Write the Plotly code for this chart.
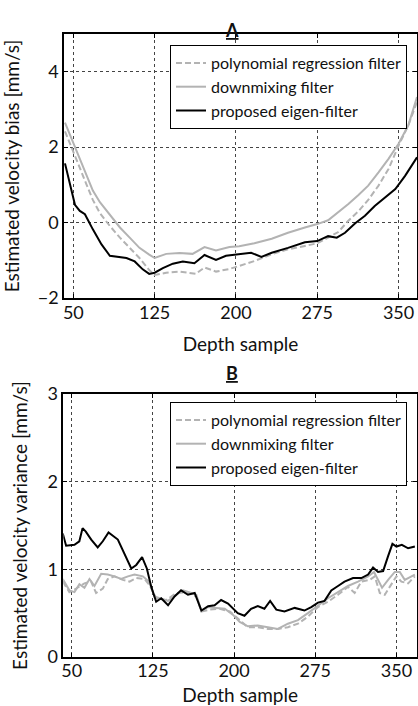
import plotly.graph_objects as go

# ---------------- Panel A: velocity bias ----------------
a_down_x = [42.3, 50, 56, 62, 68, 74.5, 83.7, 93, 102, 111, 120, 125, 135.7, 148, 160, 171, 181.6, 194, 203,
            217, 233, 248, 263.6, 275, 285, 294.4, 303.7, 313, 322, 331.5, 340.7, 350, 359, 367]
a_down_y = [2.65, 2.11, 1.70, 1.30, 0.85, 0.54, 0.22, -0.13, -0.40, -0.67, -0.85, -0.94, -0.83, -0.81, -0.83, -0.65, -0.74, -0.65, -0.63,
            -0.55, -0.43, -0.27, -0.13, -0.04, 0.06, 0.27, 0.49, 0.73, 0.98, 1.33, 1.69, 2.09, 2.58, 3.33]

a_poly_x = [42.3, 50, 56, 62, 68, 74.5, 83.7, 93, 102, 111, 120, 125, 135.7, 148, 163, 171, 181.6, 194, 202,
            217, 233, 248, 263.6, 275, 285, 294.4, 303.7, 313, 322, 331.5, 340.7, 350, 359, 367]
a_poly_y = [2.42, 1.90, 1.45, 1.02, 0.60, 0.25, -0.09, -0.40, -0.67, -0.94, -1.26, -1.39, -1.33, -1.30, -1.36, -1.19, -1.30, -1.23, -1.16,
            -1.02, -0.84, -0.71, -0.62, -0.55, -0.40, -0.25, 0.05, 0.30, 0.60, 0.98, 1.42, 2.04, 2.58, 3.20]

a_eig_x = [42.3, 47, 51.5, 56, 60.7, 68, 76, 83.7, 91, 99, 106.6, 114, 120, 125, 132.6, 141.8, 151, 161.7, 171, 181.6, 190.8, 203,
           214, 223.5, 233, 248, 263.6, 275, 285, 293, 300.6, 310, 319, 328, 337.6, 347, 356, 367]
a_eig_y = [1.57, 0.99, 0.47, 0.31, 0.22, -0.18, -0.58, -0.88, -0.90, -0.94, -1.03, -1.24, -1.36, -1.33, -1.21, -1.09, -1.03, -1.08, -0.86, -0.99, -0.88, -0.83,
           -0.80, -0.91, -0.80, -0.67, -0.52, -0.49, -0.36, -0.40, -0.27, -0.02, 0.18, 0.44, 0.67, 0.89, 1.24, 1.73]

# ---------------- Panel B: velocity variance ----------------
b_down_x = [41.7, 47.8, 52.5, 57.1, 61.7, 66.4, 71, 77.2, 83.3, 89.5, 95.7, 101.9, 108, 115.7, 121.3, 126.5, 131.2, 138.9, 146.6,
            152.8, 160.5, 165.1, 169.8, 175.9, 183.6, 191.4, 199.1, 205.2, 212.7, 221.9, 231.2, 240.4, 249.7, 259, 268.2, 277.5,
            286.7, 296, 305.2, 314.5, 323.8, 329.3, 333, 336.7, 342.3, 348.5, 353.1, 357.7, 367]
b_down_y = [0.89, 0.76, 0.74, 0.83, 0.79, 0.89, 0.81, 0.95, 0.94, 0.92, 0.89, 0.92, 0.94, 0.92, 0.86, 0.69, 0.67, 0.64, 0.71,
            0.76, 0.73, 0.71, 0.52, 0.57, 0.56, 0.55, 0.48, 0.40, 0.35, 0.36, 0.34, 0.32, 0.38, 0.42, 0.50, 0.59,
            0.67, 0.74, 0.81, 0.86, 0.92, 0.97, 0.88, 0.79, 0.88, 0.97, 0.97, 0.88, 0.94]

b_poly_x = [41.7, 47.8, 54, 61.7, 67.9, 72.5, 78.7, 83.3, 89.5, 97.2, 103.4, 109.6, 117.3, 121.9, 128.1, 137.3, 146.6, 155.9, 165.1,
            169.8, 177.5, 186.7, 196, 205.2, 212.7, 221.9, 231.2, 240.4, 249.7, 259, 268.2, 277.5, 286.7, 296, 305.2, 311.4,
            317.6, 325.3, 330, 334.6, 339.2, 343.8, 350, 354.6, 360.8, 367]
b_poly_y = [0.86, 0.74, 0.78, 0.84, 0.86, 0.73, 0.78, 0.89, 0.92, 0.88, 0.86, 0.90, 0.89, 0.82, 0.67, 0.65, 0.73, 0.74, 0.69,
            0.52, 0.54, 0.55, 0.52, 0.42, 0.34, 0.34, 0.32, 0.32, 0.34, 0.38, 0.46, 0.57, 0.63, 0.71, 0.80, 0.73,
            0.86, 0.88, 0.92, 0.73, 0.71, 0.80, 0.92, 0.86, 0.84, 0.92]

b_eig_x = [41.7, 44.8, 52.5, 57, 60, 63, 68, 74, 78.7, 84, 92.6, 98.8, 105, 109.6, 115, 119.4, 123.5, 128, 132.7, 139, 145, 151,
           157.4, 163.6, 169.8, 176, 182, 188, 194.4, 203.4, 209.6, 215.7, 221.9, 228, 233.3, 239, 246.6, 256, 265, 271.3,
           277.5, 283.6, 289.8, 296, 302, 309.9, 317.6, 323.8, 328.4, 333, 337.7, 342.3, 346.3, 350, 355, 360.8, 367]
b_eig_y = [1.41, 1.27, 1.28, 1.32, 1.47, 1.43, 1.34, 1.25, 1.32, 1.42, 1.34, 1.18, 1.01, 1.05, 1.14, 1.01, 0.80, 0.63, 0.67, 0.59, 0.69, 0.76,
           0.71, 0.73, 0.53, 0.58, 0.59, 0.65, 0.61, 0.50, 0.47, 0.55, 0.58, 0.55, 0.64, 0.54, 0.52, 0.56, 0.53, 0.57,
           0.62, 0.64, 0.76, 0.81, 0.86, 0.90, 0.90, 0.94, 1.02, 0.97, 0.98, 1.15, 1.29, 1.26, 1.28, 1.24, 1.26]

x_ticks = [50, 125, 200, 275, 350]
a_yticks = [-2, 0, 2, 4]
b_yticks = [0, 1, 2, 3]
names = ["polynomial regression filter", "downmixing filter", "proposed eigen-filter"]

W, H = 418, 706
FONT = "Lato, 'Open Sans', sans-serif"
GRAY = "#b3b3b3"

fig = go.Figure()
styles = [dict(color=GRAY, width=2, dash="6px,3px"), dict(color=GRAY, width=2), dict(color="black", width=2)]
for (xs, ys), nm, st in zip([(a_poly_x, a_poly_y), (a_down_x, a_down_y), (a_eig_x, a_eig_y)], names, styles):
    fig.add_trace(go.Scatter(x=xs, y=ys, mode="lines", name=nm, line=st, xaxis="x", yaxis="y", legend="legend"))
for (xs, ys), nm, st in zip([(b_poly_x, b_poly_y), (b_down_x, b_down_y), (b_eig_x, b_eig_y)], names, styles):
    fig.add_trace(go.Scatter(x=xs, y=ys, mode="lines", name=nm, line=st, xaxis="x2", yaxis="y2", legend="legend2"))

axcommon = dict(showline=True, linecolor="black", linewidth=1.5, mirror="allticks", ticks="inside", ticklen=4,
                tickcolor="black", showgrid=True, gridcolor="#444", griddash="dot", gridwidth=1, zeroline=False,
                automargin=False, tickfont=dict(family=FONT, size=18, color="#111"))
titlefont = dict(family=FONT, size=19, color="#111")
legfont = dict(family=FONT, size=16, color="#111")

fig.update_layout(
    width=W, height=H, margin=dict(l=0, r=0, t=0, b=0, autoexpand=False),
    paper_bgcolor="white", plot_bgcolor="white", showlegend=True,
    xaxis=dict(axcommon, domain=[64 / W, 417 / W], range=[41.4, 367], tickvals=x_ticks, anchor="y",
               ticklabelstandoff=-2, title=dict(text="Depth sample", font=titlefont)),
    yaxis=dict(axcommon, domain=[(H - 298) / H, (H - 34) / H], range=[-2, 5], tickvals=a_yticks, anchor="x",
               title=dict(text="Estimated velocity bias [mm/s]", font=titlefont)),
    xaxis2=dict(axcommon, domain=[63.3 / W, 417 / W], range=[42.2, 369], tickvals=x_ticks, anchor="y2",
                ticklabelstandoff=-3, title=dict(text="Depth sample", font=titlefont)),
    yaxis2=dict(axcommon, domain=[(H - 657) / H, (H - 394) / H], range=[0, 3], tickvals=b_yticks, anchor="x2",
                title=dict(text="Estimated velocity variance [mm/s]", font=titlefont)),
    legend=dict(x=407 / W, xanchor="right", y=(H - 45) / H, yanchor="top", bgcolor="white",
                bordercolor="black", borderwidth=1, font=legfont, itemwidth=30, tracegroupgap=0),
    legend2=dict(x=407 / W, xanchor="right", y=(H - 402) / H, yanchor="top", bgcolor="white",
                 bordercolor="black", borderwidth=1, font=legfont, itemwidth=30, tracegroupgap=0),
    annotations=[
        dict(text="<b><u>A</u></b>", x=232 / W, y=(H - 17) / H, xref="paper", yref="paper", showarrow=False,
             font=dict(family=FONT, size=18, color="#111")),
        dict(text="<b><u>B</u></b>", x=232 / W, y=(H - 373) / H, xref="paper", yref="paper", showarrow=False,
             font=dict(family=FONT, size=18, color="#111")),
    ],
)

fig.write_html("out.html", config={"displayModeBar": False},
               post_script="document.body.style.margin='0';document.body.style.overflow='hidden';"
                           "document.documentElement.style.overflow='hidden';")
